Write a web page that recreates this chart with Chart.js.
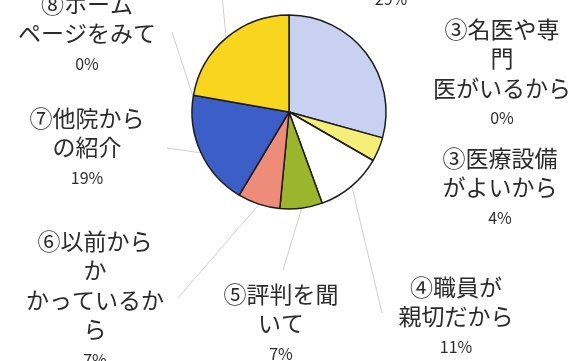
<!DOCTYPE html>
<html>
<head>
<meta charset="utf-8">
<script src="https://cdn.jsdelivr.net/npm/chart.js@4"></script>
<style>
  html, body { margin: 0; padding: 0; background: #fff; }
  #wrap { width: 588px; height: 361px; }
</style>
</head>
<body>
<div id="wrap"><canvas id="myChart" width="588" height="361"></canvas></div>
<script>
// 来院のきっかけ（%）
const categories = [
    ['①自宅や職場から', '近いから'],
    ['③名医や専', '門', '医がいるから'],
    ['③医療設備', 'がよいから'],
    ['④職員が', '親切だから'],
    ['⑤評判を聞', 'いて'],
    ['⑥以前から', 'か', 'かっているか', 'ら'],
    ['⑦他院から', 'の紹介'],
    ['⑧ホーム', 'ページをみて'],
    ['⑨その他']
];
const values = [29, 0, 4, 11, 7, 7, 19, 0, 22];
const sliceColors = ['#c9d1f3', '#f5ef78', '#f5ef78', '#ffffff', '#9db52c', '#ee8c79', '#3b5fc6', '#f9d61e', '#f9d61e'];

// ラベルの位置（1行目の中心）と引き出し線の終点
const labelPos = [[391, -61], [502, 29], [500, 158], [456, 287], [281, 294], [95, 241], [87, 118], [87, 4], [225, -60]];
const leaderEnd = [null, null, null, [382, 313], [283, 270], [178, 298], [167, 148], [172, 32], [222, -5]];

const lineH = 29.5;

const pieLabels = {
    id: 'pieLabels',
    beforeDatasetsDraw(chart) {
        const ctx = chart.ctx;
        const arcs = chart.getDatasetMeta(0).data;
        ctx.save();
        ctx.strokeStyle = '#cfcfcf';
        ctx.lineWidth = 1;
        arcs.forEach((arc, i) => {
            if (!leaderEnd[i]) return;
            const mid = (arc.startAngle + arc.endAngle) / 2;
            const r = arc.outerRadius + 1;
            ctx.beginPath();
            ctx.moveTo(arc.x + Math.cos(mid) * r, arc.y + Math.sin(mid) * r);
            ctx.lineTo(leaderEnd[i][0], leaderEnd[i][1]);
            ctx.stroke();
        });
        ctx.restore();
    },
    afterDatasetsDraw(chart) {
        const ctx = chart.ctx;
        ctx.save();
        ctx.fillStyle = '#2b2b2b';
        ctx.textAlign = 'center';
        ctx.textBaseline = 'middle';
        categories.forEach((lines, i) => {
            const [x, y] = labelPos[i];
            ctx.font = '23px "Noto Sans CJK JP"';
            lines.forEach((t, k) => ctx.fillText(t, x, y + k * lineH));
            ctx.font = '16px "Noto Sans CJK JP"';
            ctx.fillText(values[i] + '%', x, y + (lines.length - 1) * lineH + 30);
        });
        ctx.restore();
    }
};

const ctx = document.getElementById('myChart').getContext('2d');
const myChart = new Chart(ctx, {
    type: 'pie',
    data: {
        labels: categories.map(l => l.join('')),
        datasets: [{
            data: values,
            backgroundColor: sliceColors,
            borderColor: '#1c1c1c',
            borderWidth: 1.5
        }]
    },
    options: {
        responsive: false,
        animation: false,
        radius: 97,
        layout: { padding: { left: 192, right: 202, top: 15, bottom: 152 } },
        plugins: {
            legend: { display: false },
            tooltip: { enabled: false }
        }
    },
    plugins: [pieLabels]
});
</script>
</body>
</html>
